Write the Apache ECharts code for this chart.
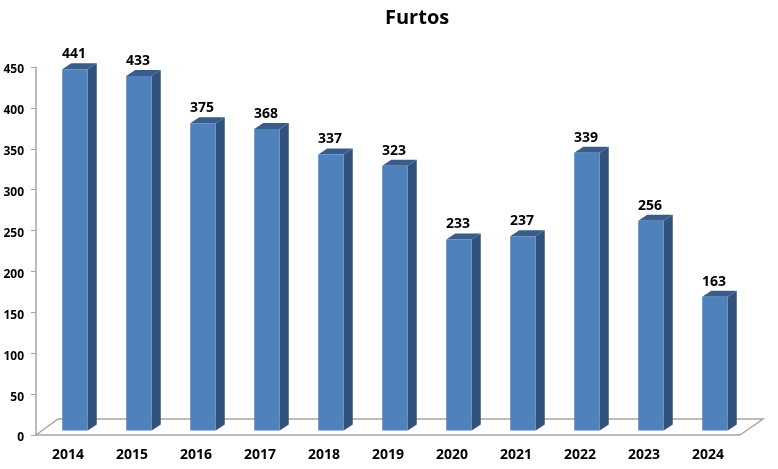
<!DOCTYPE html>
<html>
<head>
<meta charset="utf-8">
<title>Furtos</title>
<script src="https://cdn.jsdelivr.net/npm/echarts@6/dist/echarts.min.js"></script>
<style>
  html, body { margin: 0; padding: 0; background: #fff; }
  #main { width: 778px; height: 469px; }
</style>
</head>
<body>
<div id="main"></div>
<script>
var years = ['2014', '2015', '2016', '2017', '2018', '2019', '2020', '2021', '2022', '2023', '2024'];
var furtos = [441, 433, 375, 368, 337, 323, 233, 237, 339, 256, 163];
var yTicks = [0, 50, 100, 150, 200, 250, 300, 350, 400, 450];

var font = '"Open Sans", "Noto Sans", sans-serif';
var axisColor = '#a6a6a6';

// bar look: fake 3d, front face is pushed off the band centre
var barWidth = 25.5, barShift = 7, baseLift = 4.5, depthX = 9, depthY = 6;

function renderBar(params, api) {
  var top = api.coord([api.value(0), api.value(1)]);
  var bottom = api.coord([api.value(0), 0]);
  var x0 = top[0] + barShift - barWidth / 2;
  var x1 = x0 + barWidth;
  var yTop = top[1] - baseLift - 0.5;
  var yBot = bottom[1] - baseLift;
  return {
    type: 'group',
    children: [
      {
        type: 'polygon',
        shape: { points: [[x1, yTop], [x1 + depthX, yTop - depthY], [x1 + depthX, yBot - depthY], [x1, yBot]] },
        style: { fill: '#31527c' }
      },
      {
        type: 'polygon',
        shape: { points: [[x0, yTop], [x0 + depthX, yTop - depthY], [x1 + depthX, yTop - depthY], [x1, yTop]] },
        style: { fill: '#385d8a' }
      },
      {
        type: 'rect',
        shape: { x: x0, y: yTop, width: barWidth, height: yBot - yTop },
        style: { fill: '#4f81bd' }
      },
      {
        type: 'text',
        style: {
          x: x0 + barWidth / 2 - 1,
          y: yTop - 15,
          text: String(api.value(1)),
          fill: '#000',
          font: 'bold 14px ' + font,
          align: 'center',
          verticalAlign: 'middle'
        }
      }
    ]
  };
}

// floor of the 3d box, behind the bars
function renderFloor(params, api) {
  var a = api.coord([0, 0]);
  var size = api.size([1, 0]);
  var left = a[0] - size[0] / 2;
  var right = left + size[0] * years.length;
  var y = a[1];
  return {
    type: 'polyline',
    shape: { points: [[left, y], [left + 22, y - 16], [right + 23, y - 16], [right, y]] },
    style: { fill: null, stroke: axisColor, lineWidth: 1.5 },
    z2: 0
  };
}

var myChart = echarts.init(document.getElementById('main'), null, { renderer: 'canvas' });
var option = {
  animation: false,
  backgroundColor: '#fff',
  title: {
    text: 'Furtos',
    left: 380,
    top: 3,
    textStyle: { fontFamily: font, fontSize: 20, fontWeight: 'bold', color: '#000' }
  },
  grid: { left: 36, right: 38, top: 67, bottom: 34 },
  xAxis: {
    type: 'category',
    data: years,
    axisLine: { lineStyle: { color: axisColor, width: 1.5 } },
    axisTick: { alignWithLabel: false, length: 6, lineStyle: { color: axisColor } },
    axisLabel: { color: '#000', fontFamily: font, fontWeight: 'bold', fontSize: 14, margin: 13, interval: 0 }
  },
  yAxis: {
    type: 'value',
    min: yTicks[0],
    max: yTicks[yTicks.length - 1],
    interval: 50,
    axisLine: { show: true, lineStyle: { color: axisColor, width: 1.5 } },
    axisTick: { show: true, length: 5, lineStyle: { color: axisColor } },
    axisLabel: { color: '#000', fontFamily: font, fontWeight: 'bold', fontSize: 12, margin: 12, verticalAlign: 'top', lineHeight: 6 },
    splitLine: { show: false }
  },
  series: [
    { name: 'floor', type: 'custom', renderItem: renderFloor, data: [[0, 0]], z: 1, silent: true },
    {
      name: 'Furtos',
      type: 'custom',
      renderItem: renderBar,
      encode: { x: 0, y: 1 },
      data: furtos.map(function (v, i) { return [i, v]; }),
      z: 2
    }
  ]
};
myChart.setOption(option);
</script>
</body>
</html>
